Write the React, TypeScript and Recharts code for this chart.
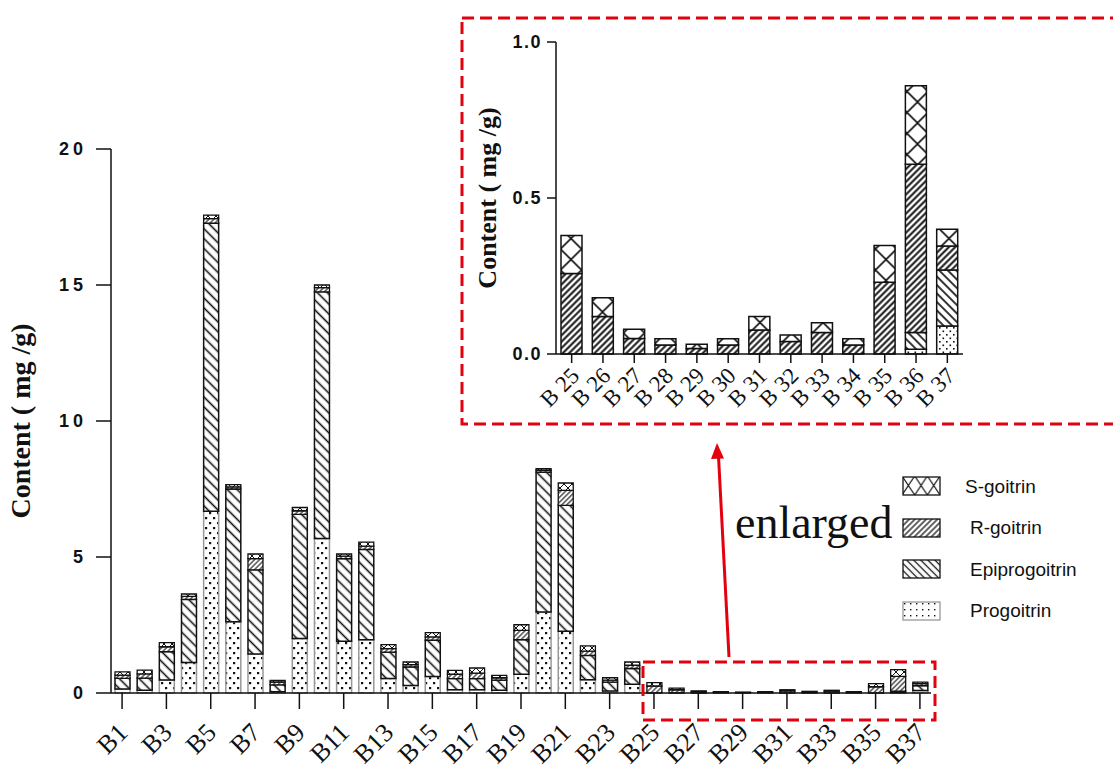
import React from "react";
import { Bar, BarChart, XAxis, YAxis } from "recharts";

// Goitrin-type glucosinolate content per sample, stacked (mg/g).
// Main chart shows all samples, the inset re-plots B25–B37 on a 0–1 scale.

const SERIF = '"Liberation Serif", "Times New Roman", serif';
const SANS = '"Liberation Sans", Arial, sans-serif';
const INK = "#111";
const RED = "#e3000f";

const samples = [
  "B1", "B2", "B3", "B4", "B5", "B6", "B7", "B8", "B9", "B10",
  "B11", "B12", "B13", "B14", "B15", "B16", "B17", "B18", "B19", "B20",
  "B21", "B22", "B23", "B24", "B25", "B26", "B27", "B28", "B29", "B30",
  "B31", "B32", "B33", "B34", "B35", "B36", "B37",
];

const progoitrin = [
  0.15, 0.1, 0.48, 1.12, 6.68, 2.62, 1.43, 0.05, 2.0, 5.68,
  1.9, 1.96, 0.53, 0.28, 0.61, 0.12, 0.12, 0.1, 0.69, 2.98,
  2.27, 0.49, 0.07, 0.32, 0, 0, 0, 0, 0, 0,
  0, 0, 0, 0, 0, 0.015, 0.09,
];
const epiprogoitrin = [
  0.39, 0.45, 1.04, 2.32, 10.59, 4.88, 3.1, 0.25, 4.57, 9.07,
  3.04, 3.32, 0.97, 0.68, 1.33, 0.41, 0.41, 0.37, 1.27, 5.14,
  4.63, 0.89, 0.33, 0.58, 0, 0, 0, 0, 0, 0,
  0, 0, 0, 0, 0, 0.054, 0.179,
];
const rGoitrin = [
  0.12, 0.15, 0.18, 0.11, 0.17, 0.08, 0.41, 0.1, 0.13, 0.15,
  0.09, 0.12, 0.13, 0.08, 0.12, 0.16, 0.2, 0.09, 0.34, 0.07,
  0.55, 0.16, 0.07, 0.12, 0.258, 0.12, 0.05, 0.029, 0.018, 0.029,
  0.077, 0.04, 0.069, 0.029, 0.23, 0.539, 0.077,
];
const sGoitrin = [
  0.12, 0.14, 0.15, 0.09, 0.13, 0.08, 0.17, 0.06, 0.12, 0.1,
  0.08, 0.15, 0.15, 0.1, 0.16, 0.14, 0.19, 0.09, 0.21, 0.06,
  0.27, 0.19, 0.09, 0.12, 0.122, 0.06, 0.029, 0.02, 0.013, 0.02,
  0.043, 0.021, 0.031, 0.02, 0.118, 0.252, 0.054,
];

const mainTicks = [0, 5, 10, 15, 20];
const insetTicks = [0, 0.5, 1];
const INSET_FROM = 24; // B25 onwards

const rows = samples.map((name, i) => ({
  name,
  prog: progoitrin[i],
  epi: epiprogoitrin[i],
  r: rGoitrin[i],
  s: sGoitrin[i],
}));
const insetRows = rows.slice(INSET_FROM);

// legend, top to bottom
const legendItems = [
  { name: "S-goitrin", fill: "url(#lCross)", stroke: INK, dx: 0 },
  { name: "R-goitrin", fill: "url(#lFwd)", stroke: INK, dx: 5 },
  { name: "Epiprogoitrin", fill: "url(#lBack)", stroke: INK, dx: 5 },
  { name: "Progoitrin", fill: "url(#lDots)", stroke: "#999", dx: 5 },
];

function Hatch({ id, gap, angle, width }: { id: string; gap: number; angle: number; width: number }) {
  return (
    <pattern id={id} width={gap} height={10} patternUnits="userSpaceOnUse" patternTransform={`rotate(${angle})`}>
      <rect width={gap} height={10} fill="#fff" />
      <line x1={gap / 2} y1={0} x2={gap / 2} y2={10} stroke={INK} strokeWidth={width} />
    </pattern>
  );
}

function Patterns() {
  return (
    <svg width={0} height={0} style={{ position: "absolute" }}>
      <defs>
        {/* main chart */}
        <pattern id="mDots" width={8} height={10} patternUnits="userSpaceOnUse">
          <rect width={8} height={10} fill="#fff" />
          <rect x={1} y={2} width={2.2} height={2.2} fill={INK} />
          <rect x={5} y={7} width={2.2} height={2.2} fill={INK} />
        </pattern>
        <Hatch id="mBack" gap={7} angle={-45} width={1.6} />
        <Hatch id="mFwd" gap={3.5} angle={45} width={1.1} />
        <pattern id="mCross" width={8} height={8} patternUnits="userSpaceOnUse">
          <rect width={8} height={8} fill="#fff" />
          <path d="M0,0 L8,8 M8,0 L0,8" stroke={INK} strokeWidth={1} />
        </pattern>
        {/* inset */}
        <pattern id="iDots" width={7} height={7} patternUnits="userSpaceOnUse">
          <rect width={7} height={7} fill="#fff" />
          <rect x={1} y={1} width={1.6} height={1.6} fill={INK} />
          <rect x={4.5} y={4.5} width={1.6} height={1.6} fill={INK} />
        </pattern>
        <Hatch id="iBack" gap={6} angle={-45} width={1.7} />
        <Hatch id="iFwd" gap={4.5} angle={45} width={2} />
        <pattern id="iCross" x={14.5} y={0} width={21} height={21} patternUnits="userSpaceOnUse">
          <rect width={21} height={21} fill="#fff" />
          <path d="M0,0 L21,21 M21,0 L0,21" stroke={INK} strokeWidth={1.6} />
        </pattern>
        {/* legend */}
        <pattern id="lDots" width={6} height={6} patternUnits="userSpaceOnUse">
          <rect width={6} height={6} fill="#fff" />
          <rect x={2} y={2} width={1.4} height={1.4} fill={INK} />
        </pattern>
        <Hatch id="lBack" gap={5} angle={-45} width={1.3} />
        <Hatch id="lFwd" gap={4} angle={45} width={1.3} />
        <pattern id="lCross" width={12.7} height={19} patternUnits="userSpaceOnUse">
          <rect width={12.7} height={19} fill="#fff" />
          <path d="M0,0 L12.7,19 M12.7,0 L0,19" stroke={INK} strokeWidth={1.2} />
        </pattern>
      </defs>
    </svg>
  );
}

function MainXTick(props: any) {
  const { x, y, payload } = props;
  const ax = x + 7;
  const ay = y + 25;
  return (
    <text x={ax} y={ay} transform={`rotate(-45 ${ax} ${ay})`} textAnchor="end" fontFamily={SERIF} fontSize={26} fill={INK}>
      {payload.value}
    </text>
  );
}

function InsetXTick(props: any) {
  const { x, y, payload } = props;
  const ax = x + 9;
  const ay = y + 14;
  return (
    <text x={ax} y={ay} transform={`rotate(-45 ${ax} ${ay})`} textAnchor="end" fontFamily={SERIF} fontSize={23} fill={INK}>
      {String(payload.value).replace("B", "B ")}
    </text>
  );
}

const axisLine = { stroke: INK, strokeWidth: 1.5 };

function MainChart() {
  return (
    <BarChart width={1113} height={769} data={rows} margin={{ top: 149, right: 182, bottom: 0, left: 0 }}>
      <XAxis
        dataKey="name"
        interval={1}
        height={76}
        tickSize={16}
        tickMargin={0}
        axisLine={axisLine}
        tickLine={axisLine}
        tick={<MainXTick />}
      />
      <YAxis
        width={111}
        domain={[0, 20]}
        ticks={mainTicks}
        tickSize={15}
        tickMargin={9}
        axisLine={axisLine}
        tickLine={axisLine}
        tick={{ fill: INK, fontFamily: SANS, fontWeight: 700, fontSize: 18, letterSpacing: 4 }}
        label={{
          value: "Content ( mg /g)",
          angle: -90,
          position: "insideLeft",
          offset: 20,
          style: { textAnchor: "middle", fontFamily: SERIF, fontWeight: 700, fontSize: 28, fill: INK },
        }}
      />
      <Bar dataKey="prog" stackId="a" barSize={15} fill="url(#mDots)" stroke="#999" strokeWidth={1.5} isAnimationActive={false} />
      <Bar dataKey="epi" stackId="a" barSize={15} fill="url(#mBack)" stroke={INK} strokeWidth={1.5} isAnimationActive={false} />
      <Bar dataKey="r" stackId="a" barSize={15} fill="url(#mFwd)" stroke={INK} strokeWidth={1.3} isAnimationActive={false} />
      <Bar dataKey="s" stackId="a" barSize={15} fill="url(#mCross)" stroke={INK} strokeWidth={1.3} isAnimationActive={false} />
    </BarChart>
  );
}

function InsetChart() {
  return (
    <BarChart width={651} height={407} data={insetRows} margin={{ top: 24, right: 150, bottom: 0, left: 0 }}>
      <XAxis
        dataKey="name"
        interval={0}
        height={71}
        tickSize={9}
        tickMargin={0}
        axisLine={axisLine}
        tickLine={axisLine}
        tick={<InsetXTick />}
      />
      <YAxis
        width={94}
        domain={[0, 1]}
        ticks={insetTicks}
        tickSize={9}
        tickMargin={5}
        tickFormatter={(v: number) => v.toFixed(1)}
        axisLine={axisLine}
        tickLine={axisLine}
        tick={{ fill: INK, fontFamily: SANS, fontWeight: 700, fontSize: 18, letterSpacing: 1.5 }}
        label={{
          value: "Content ( mg /g)",
          angle: -90,
          position: "insideLeft",
          offset: 25,
          style: { textAnchor: "middle", fontFamily: SERIF, fontWeight: 700, fontSize: 26, fill: INK },
        }}
      />
      <Bar dataKey="prog" stackId="a" barSize={21} fill="url(#iDots)" stroke={INK} strokeWidth={1.5} isAnimationActive={false} />
      <Bar dataKey="epi" stackId="a" barSize={21} fill="url(#iBack)" stroke={INK} strokeWidth={1.5} isAnimationActive={false} />
      <Bar dataKey="r" stackId="a" barSize={21} fill="url(#iFwd)" stroke={INK} strokeWidth={1.5} isAnimationActive={false} />
      <Bar dataKey="s" stackId="a" barSize={21} fill="url(#iCross)" stroke={INK} strokeWidth={1.5} isAnimationActive={false} />
    </BarChart>
  );
}

function LegendBox() {
  return (
    <div style={{ position: "absolute", left: 902, top: 477 }}>
      {legendItems.map((it) => (
        <div key={it.name} style={{ display: "flex", alignItems: "center", height: 19, marginBottom: 22.5 }}>
          <svg width={40} height={21} style={{ display: "block" }}>
            <rect x={1} y={1} width={37} height={18} fill={it.fill} stroke={it.stroke} strokeWidth={1.3} />
          </svg>
          <span style={{ marginLeft: 23 + it.dx, fontFamily: SANS, fontSize: 19, color: INK, whiteSpace: "nowrap" }}>
            {it.name}
          </span>
        </div>
      ))}
    </div>
  );
}

function Annotations() {
  return (
    <svg width={1113} height={769} style={{ position: "absolute", left: 0, top: 0, pointerEvents: "none" }}>
      <rect x={462} y={18} width={700} height={406} fill="none" stroke={RED} strokeWidth={3} strokeDasharray="12 6" />
      <rect x={643} y={662} width={292} height={58} fill="none" stroke={RED} strokeWidth={3} strokeDasharray="12 6" />
      <line x1={729} y1={657} x2={718.5} y2={456} stroke={RED} strokeWidth={3} />
      <polygon points="717,443 711,459 724,458.5" fill={RED} />
      <text x={735} y={538} fontFamily={SERIF} fontSize={46} fill={INK}>
        enlarged
      </text>
    </svg>
  );
}

export default function App() {
  return (
    <div style={{ position: "absolute", left: 0, top: 0, width: 1113, height: 769, background: "#fff", overflow: "hidden" }}>
      <Patterns />
      <div style={{ position: "absolute", left: 0, top: 0 }}>
        <MainChart />
      </div>
      <div style={{ position: "absolute", left: 462, top: 18 }}>
        <InsetChart />
      </div>
      <LegendBox />
      <Annotations />
    </div>
  );
}
